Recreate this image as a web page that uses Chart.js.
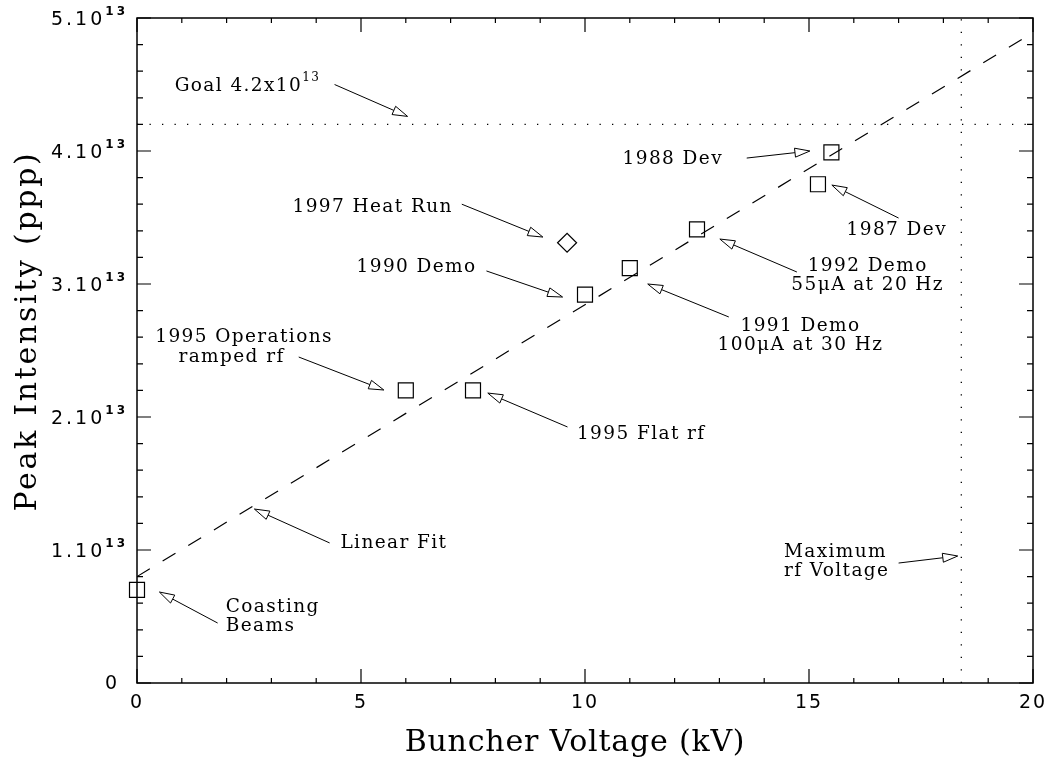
<!DOCTYPE html>
<html>
<head>
<meta charset="utf-8">
<script src="https://cdn.jsdelivr.net/npm/chart.js@4.4.1/dist/chart.umd.min.js"></script>
<style>
  html, body { margin: 0; padding: 0; background: #fff; }
  #wrap { width: 1051px; height: 775px; }
</style>
</head>
<body>
<div id="wrap"><canvas id="chart" width="1051" height="775"></canvas></div>
<script>
// measured runs (squares)
const runX = [0, 6, 7.5, 10, 11, 12.5, 15.2, 15.5];
const runY = [0.70e13, 2.20e13, 2.20e13, 2.92e13, 3.12e13, 3.41e13, 3.75e13, 3.99e13];
// 1997 heat run (diamond)
const heatX = [9.6];
const heatY = [3.31e13];
// linear fit
const fitX = [0, 20];
const fitY = [0.80e13, 4.89e13];
// goal and max rf voltage
const goalX = [0, 20];
const goalY = [4.2e13, 4.2e13];
const maxRfX = [18.4, 18.4];
const maxRfY = [0, 5e13];

const xTickVals = [0, 5, 10, 15, 20];
const xTickLabels = ['0', '5', '10', '15', '20'];
const yTickVals = [0, 1e13, 2e13, 3e13, 4e13, 5e13];
const yTickLabels = ['0', '1.10', '2.10', '3.10', '4.10', '5.10'];
const yTickSup = ['', '13', '13', '13', '13', '13'];

// annotations: text lines [text, sup], anchor in data units, arrow from -> to
const notes = [
  { lines: [['Goal 4.2x10', '13']], x: 0.84, y: 4.489e13, align: 'left', from: [4.41, 4.50e13], to: [6.04, 4.26e13] },
  { lines: [['1988 Dev', '']], x: 13.08, y: 3.94e13, align: 'right', from: [13.61, 3.947e13], to: [15.02, 4.00e13] },
  { lines: [['1987 Dev', '']], x: 18.08, y: 3.406e13, align: 'right', from: [17.0, 3.496e13], to: [15.51, 3.744e13] },
  { lines: [['1992 Demo', ''], ['55μA at 20 Hz', '']], x: 16.31, y: 3.135e13, align: 'center', from: [14.73, 3.09e13], to: [13.01, 3.338e13] },
  { lines: [['1991 Demo', ''], ['100μA at 30 Hz', '']], x: 14.81, y: 2.684e13, align: 'center', from: [13.21, 2.752e13], to: [11.40, 3.0e13] },
  { lines: [['1997 Heat Run', '']], x: 7.05, y: 3.579e13, align: 'right', from: [7.25, 3.60e13], to: [9.06, 3.353e13] },
  { lines: [['1990 Demo', '']], x: 7.58, y: 3.128e13, align: 'right', from: [7.80, 3.098e13], to: [9.50, 2.902e13] },
  { lines: [['1995 Operations', '']], x: 2.39, y: 2.602e13, align: 'center', from: null, to: null },
  { lines: [['ramped rf', '']], x: 2.11, y: 2.451e13, align: 'center', from: [3.61, 2.451e13], to: [5.51, 2.203e13] },
  { lines: [['1995 Flat rf', '']], x: 9.82, y: 1.872e13, align: 'left', from: [9.61, 1.925e13], to: [7.83, 2.18e13] },
  { lines: [['Linear Fit', '']], x: 4.54, y: 1.053e13, align: 'left', from: [4.30, 1.053e13], to: [2.62, 1.308e13] },
  { lines: [['Coasting', ''], ['Beams', '']], x: 1.98, y: 0.571e13, align: 'left', from: [1.80, 0.451e13], to: [0.50, 0.684e13] },
  { lines: [['Maximum', ''], ['rf Voltage', '']], x: 14.44, y: 0.985e13, align: 'left', from: [17.0, 0.902e13], to: [18.32, 0.955e13] }
];

const toPts = (xs, ys) => xs.map((x, i) => ({ x: x, y: ys[i] }));

function drawText(ctx, parts, x, y, align, font, supFont, spacing, supRise, base) {
  // parts: [main, sup]
  ctx.save();
  ctx.fillStyle = '#000';
  ctx.letterSpacing = spacing + 'px';
  ctx.font = font;
  const w1 = ctx.measureText(parts[0]).width;
  ctx.font = supFont;
  const w2 = parts[1] ? ctx.measureText(parts[1]).width : 0;
  const total = w1 + w2;
  let x0 = x;
  if (align === 'right') x0 = x - total;
  else if (align === 'center') x0 = x - total / 2;
  ctx.textAlign = 'left';
  ctx.textBaseline = base || 'middle';
  ctx.font = font;
  ctx.fillText(parts[0], x0, y);
  if (parts[1]) {
    ctx.font = supFont;
    ctx.fillText(parts[1], x0 + w1, y - supRise);
  }
  ctx.restore();
}

function arrow(ctx, x1, y1, x2, y2) {
  const ang = Math.atan2(y2 - y1, x2 - x1);
  const len = 15, half = 4.5;
  const bx = x2 - Math.cos(ang) * len, by = y2 - Math.sin(ang) * len;
  const nx = -Math.sin(ang) * half, ny = Math.cos(ang) * half;
  ctx.save();
  ctx.beginPath();
  ctx.moveTo(x1, y1);
  ctx.lineTo(bx, by);
  ctx.stroke();
  ctx.beginPath();
  ctx.moveTo(x2, y2);
  ctx.lineTo(bx + nx, by + ny);
  ctx.lineTo(bx - nx, by - ny);
  ctx.closePath();
  ctx.fillStyle = '#fff';
  ctx.fill();
  ctx.stroke();
  ctx.restore();
}

const framePlugin = {
  id: 'frame',
  afterDraw(chart) {
    const ctx = chart.ctx;
    const a = chart.chartArea;
    const xs = chart.scales.x, ys = chart.scales.y;
    ctx.save();
    ctx.strokeStyle = '#000';
    ctx.fillStyle = '#000';

    // frame
    ctx.lineWidth = 1.5;
    ctx.strokeRect(a.left, a.top, a.right - a.left, a.bottom - a.top);

    // inside ticks on all four sides
    ctx.lineWidth = 1.2;
    ctx.beginPath();
    for (let v = 0; v <= 20; v++) {
      const px = xs.getPixelForValue(v);
      const len = v % 5 === 0 ? 14 : 5;
      ctx.moveTo(px, a.bottom); ctx.lineTo(px, a.bottom - len);
      ctx.moveTo(px, a.top); ctx.lineTo(px, a.top + len);
    }
    for (let k = 0; k <= 25; k++) {
      const py = ys.getPixelForValue(k * 2e12);
      const len = k % 5 === 0 ? 14 : 6;
      ctx.moveTo(a.left, py); ctx.lineTo(a.left + len, py);
      ctx.moveTo(a.right, py); ctx.lineTo(a.right - len, py);
    }
    ctx.stroke();

    // tick labels
    xTickVals.forEach((v, i) => {
      drawText(ctx, [xTickLabels[i], ''], xs.getPixelForValue(v), a.bottom + 20, 'center',
        '19px "DejaVu Sans"', '15px "DejaVu Sans"', 2, 0);
    });
    yTickVals.forEach((v, i) => {
      const py = ys.getPixelForValue(v);
      if (yTickSup[i]) {
        drawText(ctx, [yTickLabels[i], yTickSup[i]], a.left - 9, py + 2, 'right',
          '19px "DejaVu Sans"', 'bold 12px "DejaVu Sans"', 3, 8);
      } else {
        drawText(ctx, [yTickLabels[i], ''], a.left - 20, py + 1, 'right',
          '19px "DejaVu Sans"', '14px "DejaVu Sans"', 0, 0);
      }
    });

    // axis titles
    drawText(ctx, ['Buncher Voltage (kV)', ''], 575, 751, 'center',
      '30px "DejaVu Serif"', '20px "DejaVu Serif"', 0.8, 0, 'alphabetic');
    ctx.save();
    ctx.translate(36, 331);
    ctx.rotate(-Math.PI / 2);
    drawText(ctx, ['Peak Intensity (ppp)', ''], 0, 0, 'center',
      '30px "DejaVu Serif"', '20px "DejaVu Serif"', 2.7, 0, 'alphabetic');
    ctx.restore();

    // annotations
    ctx.lineWidth = 1;
    notes.forEach(n => {
      const px = xs.getPixelForValue(n.x);
      const py = ys.getPixelForValue(n.y);
      n.lines.forEach((ln, i) => {
        drawText(ctx, ln, px, py + i * 19.5, n.align,
          '18.5px "DejaVu Serif"', '12px "DejaVu Serif"', 1.4, 8);
      });
      if (n.from) {
        arrow(ctx, xs.getPixelForValue(n.from[0]), ys.getPixelForValue(n.from[1]),
          xs.getPixelForValue(n.to[0]), ys.getPixelForValue(n.to[1]));
      }
    });
    ctx.restore();
  }
};

new Chart(document.getElementById('chart'), {
  type: 'scatter',
  data: {
    datasets: [
      {
        data: toPts(runX, runY),
        pointStyle: 'rect',
        pointRadius: 10.6,
        borderColor: '#000',
        backgroundColor: 'rgba(0,0,0,0)',
        borderWidth: 1.2,
        showLine: false,
        clip: false
      },
      {
        data: toPts(heatX, heatY),
        pointStyle: 'rectRot',
        pointRadius: 9.5,
        borderColor: '#000',
        backgroundColor: 'rgba(0,0,0,0)',
        borderWidth: 1.2,
        showLine: false,
        clip: false
      },
      {
        data: toPts(fitX, fitY),
        showLine: true,
        borderColor: '#000',
        borderWidth: 1.2,
        borderDash: [15, 15],
        pointRadius: 0
      },
      {
        data: toPts(goalX, goalY),
        showLine: true,
        borderColor: '#000',
        borderWidth: 1.3,
        borderDash: [1.3, 11.2],
        pointRadius: 0
      },
      {
        data: toPts(maxRfX, maxRfY),
        showLine: true,
        borderColor: '#000',
        borderWidth: 1.3,
        borderDash: [1.3, 11.2],
        pointRadius: 0
      }
    ]
  },
  options: {
    responsive: false,
    animation: false,
    events: [],
    layout: { padding: { left: 137, right: 18, top: 18, bottom: 92 } },
    scales: {
      x: { type: 'linear', min: 0, max: 20, display: false },
      y: { type: 'linear', min: 0, max: 5e13, display: false }
    },
    plugins: {
      legend: { display: false },
      tooltip: { enabled: false }
    }
  },
  plugins: [framePlugin]
});
</script>
</body>
</html>
